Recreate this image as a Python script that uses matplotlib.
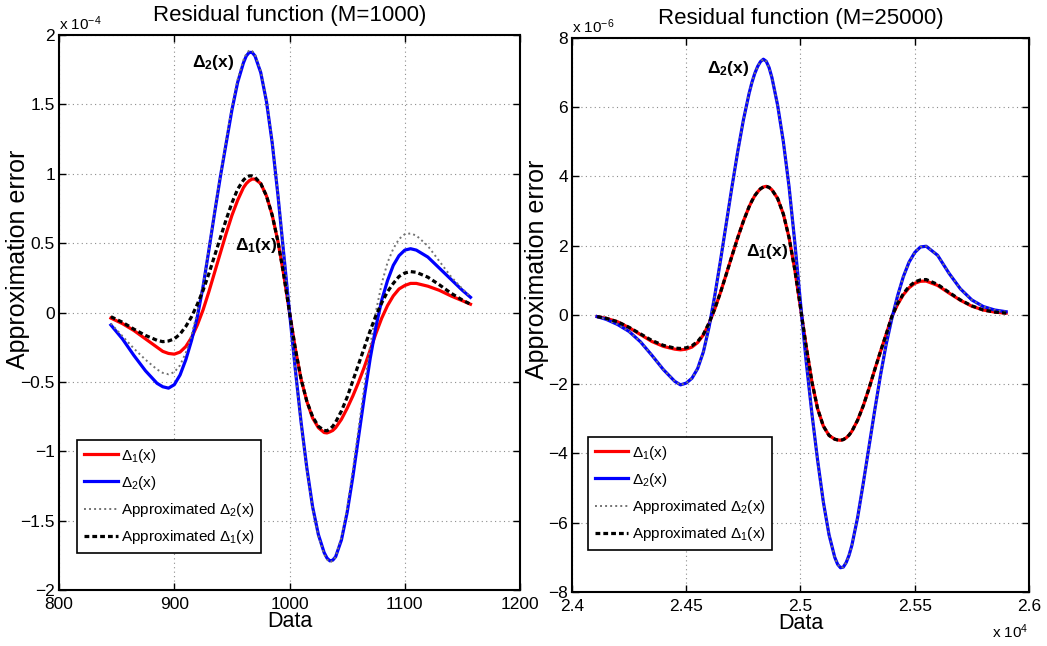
import numpy as np
import matplotlib
matplotlib.use("Agg")
import matplotlib.pyplot as plt
from matplotlib.ticker import FuncFormatter, MultipleLocator
from matplotlib.lines import Line2D

plt.rcParams['font.family'] = ['Liberation Sans', 'DejaVu Sans']
plt.rcParams['mathtext.fontset'] = 'custom'
plt.rcParams['mathtext.rm'] = 'Liberation Sans'
plt.rcParams['mathtext.it'] = 'Liberation Sans:italic'
plt.rcParams['mathtext.bf'] = 'Liberation Sans:bold'

# ---------------- Left panel (M=1000), y values in units of 1e-4 ----------------
left_x = [845, 855, 865, 875, 885, 890, 895, 900, 905, 910, 915, 920, 925, 930, 935, 940,
          945, 950, 955, 960, 962.5, 965, 967.5, 970, 975, 980, 985, 990, 995, 1000, 1005,
          1010, 1015, 1020, 1025, 1030, 1032.5, 1035, 1037.5, 1040, 1045, 1050, 1055, 1060,
          1065, 1070, 1075, 1080, 1085, 1090, 1095, 1100, 1105, 1110, 1120, 1130, 1140,
          1150, 1157]
left_delta1 = [-0.04, -0.08, -0.13, -0.19, -0.25, -0.28, -0.295, -0.30, -0.285, -0.245, -0.18,
               -0.09, 0.02, 0.15, 0.29, 0.43, 0.57, 0.70, 0.81, 0.90, 0.93, 0.95, 0.962, 0.962,
               0.93, 0.84, 0.70, 0.51, 0.27, 0.0, -0.26,
               -0.48, -0.64, -0.76, -0.83, -0.865, -0.868, -0.86, -0.85, -0.83, -0.77, -0.69,
               -0.60, -0.50, -0.39, -0.27, -0.15, -0.04, 0.05, 0.12, 0.17, 0.195, 0.21, 0.21,
               0.19, 0.16, 0.12, 0.085, 0.06]
left_delta2 = [-0.09, -0.19, -0.31, -0.42, -0.51, -0.535, -0.545, -0.52, -0.45, -0.34, -0.20,
               -0.03, 0.19, 0.45, 0.72, 0.98, 1.22, 1.46, 1.66, 1.80, 1.85, 1.875, 1.875, 1.85,
               1.73, 1.52, 1.22, 0.84, 0.42, 0.0, -0.41,
               -0.79, -1.12, -1.40, -1.60, -1.73, -1.77, -1.79, -1.785, -1.76, -1.64, -1.44,
               -1.18, -0.89, -0.60, -0.33, -0.10, 0.09, 0.23, 0.34, 0.41, 0.45, 0.46, 0.45,
               0.40, 0.32, 0.24, 0.16, 0.11]
left_approx2 = [-0.08, -0.17, -0.26, -0.34, -0.41, -0.435, -0.445, -0.43, -0.38, -0.29, -0.16,
                0.0, 0.20, 0.46, 0.73, 0.99, 1.24, 1.48, 1.68, 1.82, 1.865, 1.89, 1.885, 1.86,
                1.74, 1.53, 1.23, 0.85, 0.43, 0.0, -0.42,
                -0.80, -1.13, -1.41, -1.61, -1.74, -1.78, -1.80, -1.79, -1.76, -1.62, -1.41,
                -1.13, -0.83, -0.52, -0.24, 0.01, 0.21, 0.36, 0.46, 0.53, 0.565, 0.57, 0.555,
                0.48, 0.37, 0.26, 0.17, 0.115]
left_approx1 = [-0.03, -0.07, -0.12, -0.165, -0.20, -0.21, -0.205, -0.19, -0.155, -0.10, -0.03,
                0.06, 0.16, 0.28, 0.41, 0.54, 0.67, 0.79, 0.89, 0.955, 0.975, 0.985, 0.985, 0.975,
                0.93, 0.84, 0.70, 0.51, 0.27, 0.0, -0.26,
                -0.48, -0.64, -0.75, -0.82, -0.85, -0.852, -0.84, -0.82, -0.79, -0.71, -0.61,
                -0.49, -0.37, -0.25, -0.13, -0.02, 0.07, 0.15, 0.21, 0.26, 0.285, 0.295, 0.29,
                0.255, 0.20, 0.14, 0.09, 0.06]

# ---------------- Right panel (M=25000), y values in units of 1e-6 ----------------
right_x = [24110, 24150, 24200, 24250, 24300, 24350, 24400, 24450, 24475, 24500, 24525, 24550,
           24575, 24600, 24625, 24650, 24675, 24700, 24725, 24750, 24775, 24787.5, 24800,
           24812.5, 24825, 24837.5, 24850, 24862.5, 24875, 24900, 24925, 24950, 24975, 25000,
           25025, 25050, 25075, 25100, 25125, 25150, 25162.5, 25175, 25187.5, 25200, 25212.5,
           25225, 25250, 25275, 25300, 25325, 25350, 25375, 25400, 25425, 25450, 25475, 25500,
           25525, 25550, 25600, 25650, 25700, 25750, 25800, 25850, 25900]
right_delta1 = [-0.05, -0.10, -0.20, -0.37, -0.57, -0.77, -0.91, -0.99, -1.01, -0.99, -0.93,
                -0.80, -0.58, -0.25, 0.17, 0.65, 1.17, 1.70, 2.22, 2.70, 3.12, 3.29, 3.44,
                3.55, 3.64, 3.69, 3.71, 3.68, 3.61, 3.36, 2.91, 2.23, 1.31, 0.21,
                -0.91, -1.93, -2.71, -3.21, -3.48, -3.59, -3.61, -3.62, -3.60, -3.55, -3.47,
                -3.36, -3.04, -2.62, -2.12, -1.58, -1.06, -0.56, -0.05, 0.30, 0.58, 0.78, 0.91,
                0.97, 0.975, 0.85, 0.63, 0.42, 0.25, 0.14, 0.08, 0.05]
right_delta2 = [-0.05, -0.13, -0.28, -0.48, -0.78, -1.17, -1.58, -1.92, -2.02, -1.97, -1.83,
                -1.55, -1.07, -0.35, 0.56, 1.57, 2.63, 3.69, 4.70, 5.62, 6.39, 6.71, 6.97,
                7.17, 7.31, 7.38, 7.32, 7.14, 6.85, 6.05, 5.00, 3.70, 2.10, 0.35,
                -1.35, -2.85, -4.20, -5.40, -6.35, -7.00, -7.20, -7.30, -7.28, -7.15, -6.94,
                -6.65, -5.85, -4.85, -3.80, -2.75, -1.75, -0.85, -0.10, 0.55, 1.10, 1.52, 1.80,
                1.96, 1.98, 1.72, 1.20, 0.75, 0.43, 0.24, 0.14, 0.09]
right_approx2 = [-0.05, -0.13, -0.28, -0.48, -0.78, -1.17, -1.58, -1.92, -2.02, -1.97, -1.83,
                 -1.55, -1.07, -0.35, 0.56, 1.57, 2.63, 3.69, 4.70, 5.62, 6.39, 6.71, 6.97,
                 7.17, 7.31, 7.38, 7.32, 7.14, 6.85, 6.05, 5.00, 3.70, 2.10, 0.35,
                 -1.35, -2.85, -4.20, -5.40, -6.35, -7.00, -7.20, -7.30, -7.28, -7.15, -6.94,
                 -6.65, -5.85, -4.85, -3.80, -2.75, -1.75, -0.85, -0.10, 0.55, 1.10, 1.52, 1.80,
                 1.96, 1.98, 1.72, 1.20, 0.75, 0.43, 0.24, 0.14, 0.09]
right_approx1 = [-0.05, -0.10, -0.20, -0.36, -0.55, -0.74, -0.88, -0.96, -0.97, -0.95, -0.89,
                 -0.77, -0.56, -0.23, 0.18, 0.65, 1.17, 1.70, 2.22, 2.70, 3.12, 3.29, 3.44,
                 3.55, 3.64, 3.69, 3.71, 3.68, 3.61, 3.36, 2.91, 2.23, 1.31, 0.21,
                 -0.91, -1.93, -2.71, -3.21, -3.48, -3.59, -3.61, -3.62, -3.60, -3.55, -3.47,
                 -3.36, -3.04, -2.62, -2.12, -1.58, -1.06, -0.56, -0.04, 0.32, 0.61, 0.82, 0.95,
                 1.01, 1.02, 0.88, 0.65, 0.43, 0.26, 0.14, 0.08, 0.05]

title_left = 'Residual function (M=1000)'
title_right = 'Residual function (M=25000)'
xlabel = 'Data'
ylabel = 'Approximation error'
legend_labels = [r'$\Delta_1$(x)', r'$\Delta_2$(x)', r'Approximated $\Delta_2$(x)',
                 r'Approximated $\Delta_1$(x)']

fig = plt.figure(figsize=(10.47, 6.46), dpi=100)
ax1 = fig.add_axes([0.0564, 0.0867, 0.4403, 0.859])
ax2 = fig.add_axes([0.5463, 0.0836, 0.4365, 0.858])

fmt_num = FuncFormatter(lambda v, p: ('%g' % v).replace('-', '\u2212'))


def draw(ax, x, d1, d2, a2, a1):
    ax.plot(x, d1, color='#ff0000', lw=2.3, zorder=3, solid_joinstyle='round')
    ax.plot(x, d2, color='#0000ff', lw=2.3, zorder=3, solid_joinstyle='round')
    ax.plot(x, a2, color='0.45', lw=1.4, ls=(0, (1, 1.6)), zorder=4)
    ax.plot(x, a1, color='k', lw=2.3, ls=(0, (1.5, 0.95)), zorder=5)
    ax.grid(True, ls=(0, (1, 3)), color='0.55', lw=0.8)
    ax.tick_params(direction='in', top=True, right=True, length=5, width=1, labelsize=12.5)
    ax.tick_params(axis='x', pad=5)
    ax.tick_params(axis='y', pad=3)
    for s in ax.spines.values():
        s.set_linewidth(1.5)
    handles = [Line2D([], [], color='#ff0000', lw=2.3),
               Line2D([], [], color='#0000ff', lw=2.3),
               Line2D([], [], color='0.45', lw=1.4, ls=(0, (1, 1.6))),
               Line2D([], [], color='k', lw=2.3, ls=(0, (1.5, 0.95)))]
    return handles


h = draw(ax1, left_x, left_delta1, left_delta2, left_approx2, left_approx1)
ax1.set_xlim(800, 1200)
ax1.set_ylim(-2, 2)
ax1.xaxis.set_major_locator(MultipleLocator(100))
ax1.yaxis.set_major_locator(MultipleLocator(0.5))
ax1.yaxis.set_major_formatter(fmt_num)
ax1.set_title(title_left, fontsize=16, pad=10)
ax1.set_xlabel(xlabel, fontsize=15.5, labelpad=-1)
ax1.set_ylabel(ylabel, fontsize=18)
ax1.yaxis.set_label_coords(-0.062, 0.596)
ax1.text(0.0, 1.004, r'x 10$^{-4}$', transform=ax1.transAxes, fontsize=11, ha='left',
         va='bottom')
ax1.text(933.6, 1.80, r'$\mathbf{\Delta_2}$(x)', fontsize=12.5, fontweight='bold',
         ha='center', va='center', zorder=6)
ax1.text(970.9, 0.48, r'$\mathbf{\Delta_1}$(x)', fontsize=12.5, fontweight='bold',
         ha='center', va='center', zorder=6)
leg = ax1.legend(h, legend_labels, loc='lower left', bbox_to_anchor=(0.039, 0.0667),
                 borderaxespad=0, fontsize=11, frameon=True, fancybox=False,
                 edgecolor='k', framealpha=1, handlelength=2.2, handletextpad=0.2,
                 labelspacing=0.6, borderpad=0.45)
leg.get_frame().set_linewidth(1.2)

h = draw(ax2, right_x, right_delta1, right_delta2, right_approx2, right_approx1)
ax2.set_xlim(24000, 26000)
ax2.set_ylim(-8, 8)
ax2.xaxis.set_major_locator(MultipleLocator(500))
ax2.xaxis.set_major_formatter(FuncFormatter(lambda v, p: '%g' % (v / 1e4)))
ax2.yaxis.set_major_locator(MultipleLocator(2))
ax2.yaxis.set_major_formatter(fmt_num)
ax2.set_title(title_right, fontsize=16, pad=10)
ax2.set_xlabel(xlabel, fontsize=15.5, labelpad=-1)
ax2.set_ylabel(ylabel, fontsize=18)
ax2.yaxis.set_label_coords(-0.05, 0.583)
ax2.text(0.0, 1.004, r'x 10$^{-6}$', transform=ax2.transAxes, fontsize=11, ha='left',
         va='bottom')
ax2.text(1.0, -0.088, r'x 10$^{4}$', transform=ax2.transAxes, fontsize=11, ha='right',
         va='bottom')
ax2.text(24685, 7.1, r'$\mathbf{\Delta_2}$(x)', fontsize=12.5, fontweight='bold',
         ha='center', va='center', zorder=6)
ax2.text(24852, 1.82, r'$\mathbf{\Delta_1}$(x)', fontsize=12.5, fontweight='bold',
         ha='center', va='center', zorder=6)
leg = ax2.legend(h, legend_labels, loc='lower left', bbox_to_anchor=(0.035, 0.0757),
                 borderaxespad=0, fontsize=11, frameon=True, fancybox=False,
                 edgecolor='k', framealpha=1, handlelength=2.2, handletextpad=0.2,
                 labelspacing=0.6, borderpad=0.45)
leg.get_frame().set_linewidth(1.2)

fig.savefig('out.png', dpi=100)
